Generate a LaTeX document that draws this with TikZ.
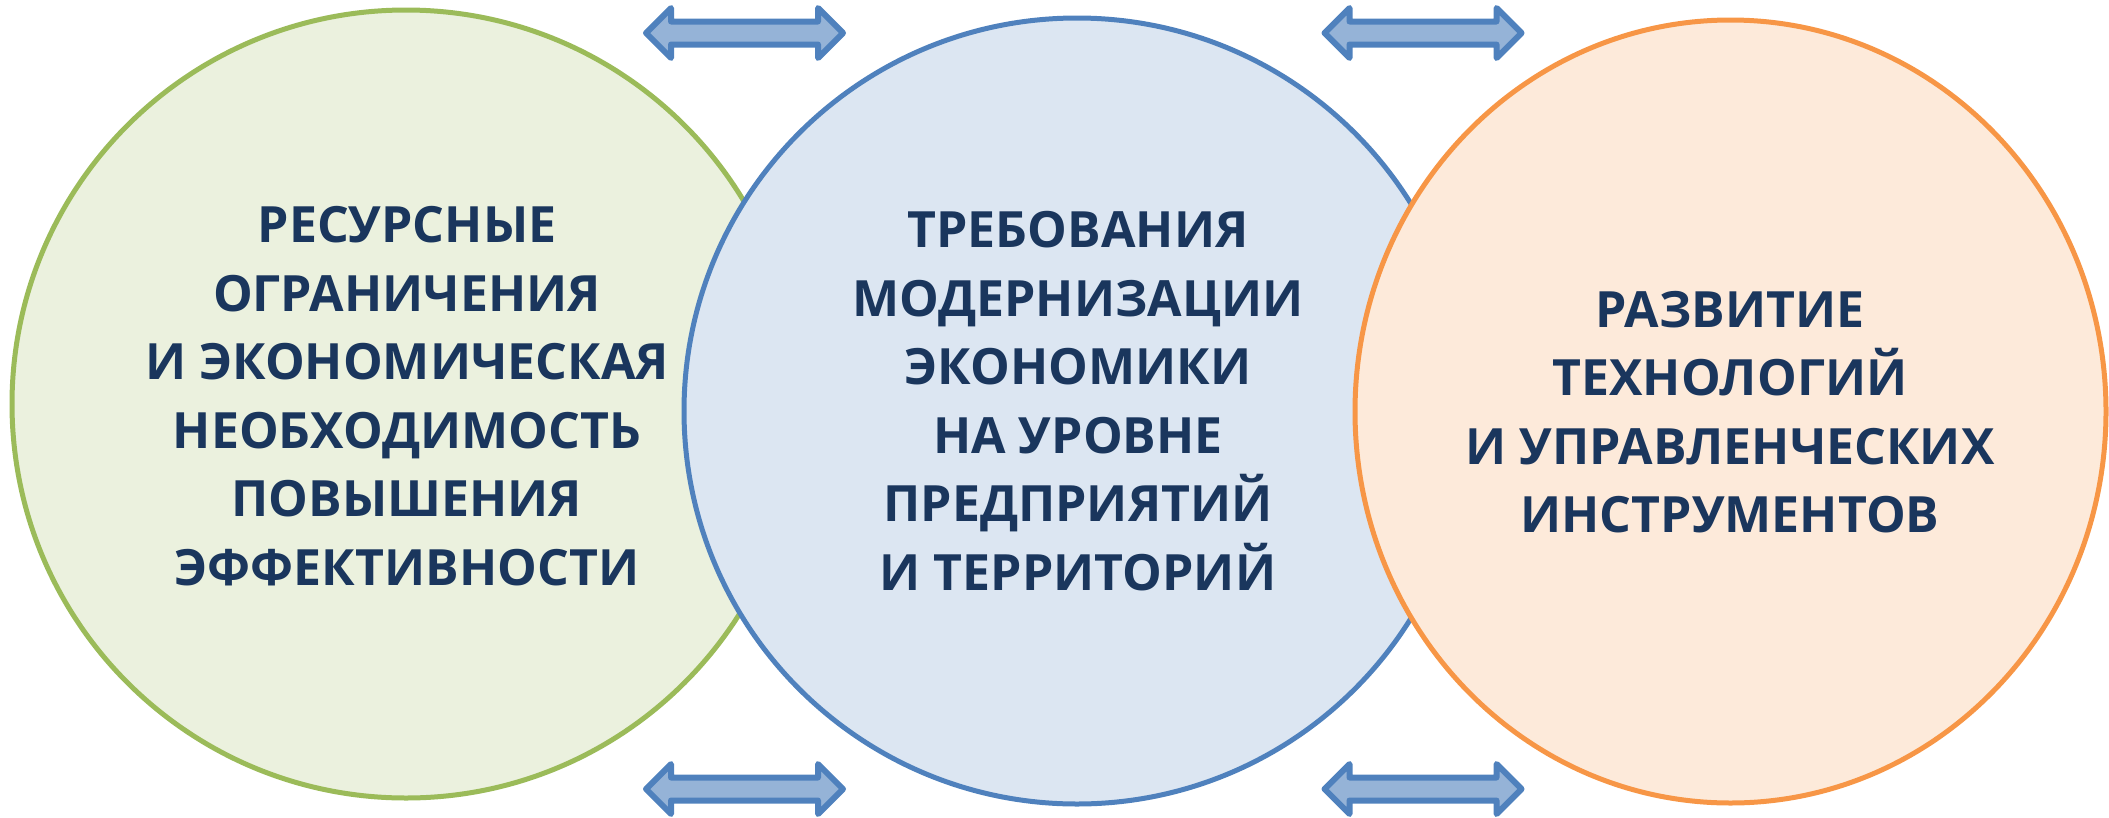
\documentclass[tikz,border=0pt]{standalone}
\usepackage{fontspec}
\setmainfont{Open Sans}
\usetikzlibrary{shapes.geometric}
\definecolor{greenfill}{RGB}{235,241,222}
\definecolor{greenline}{RGB}{155,187,89}
\definecolor{bluefill}{RGB}{220,230,242}
\definecolor{blueline}{RGB}{79,129,189}
\definecolor{orangefill}{RGB}{253,234,218}
\definecolor{orangeline}{RGB}{247,150,70}
\definecolor{arrowfill}{RGB}{149,179,215}
\definecolor{textnavy}{RGB}{26,54,93}
\tikzset{
  bubble/.style={circle, line width=5pt, minimum size=788pt, inner sep=0pt},
  bubbletext/.style={align=center, inner sep=0pt, text=textnavy,
    font=\bfseries\fontsize{50}{68.5}\selectfont},
  dblarrow/.pic={
    \draw[line width=6pt, line join=round, draw=blueline, fill=arrowfill]
      (-98.5,0) -- (-73.5,-25) -- (-73.5,-11.5) -- (73.5,-11.5) -- (73.5,-25)
      -- (98.5,0) -- (73.5,25) -- (73.5,11.5) -- (-73.5,11.5) -- (-73.5,25) -- cycle;
  }
}
\begin{document}
\begin{tikzpicture}[x=1pt,y=-1pt]
\useasboundingbox (0,0) rectangle (2109,817);
\node[bubble, draw=greenline, fill=greenfill] (c1) at (406,404) {};
\node[bubble, draw=blueline, fill=bluefill, minimum size=786pt] (c2) at (1077,411) {};
\node[ellipse, line width=5pt, inner sep=0pt, minimum width=751pt, minimum height=783pt,
      draw=orangeline, fill=orangefill] (c3) at (1730.5,411.5) {};
\node[bubbletext] (t1) at (407,396) {РЕСУРСНЫЕ\\ОГРАНИЧЕНИЯ\\И ЭКОНОМИЧЕСКАЯ\\НЕОБХОДИМОСТЬ\\ПОВЫШЕНИЯ\\ЭФФЕКТИВНОСТИ};
\node[bubbletext] (t2) at (1078,401) {ТРЕБОВАНИЯ\\МОДЕРНИЗАЦИИ\\ЭКОНОМИКИ\\НА УРОВНЕ\\ПРЕДПРИЯТИЙ\\И ТЕРРИТОРИЙ};
\node[bubbletext] (t3) at (1730,412) {РАЗВИТИЕ\\ТЕХНОЛОГИЙ\\И УПРАВЛЕНЧЕСКИХ\\ИНСТРУМЕНТОВ};
\pic at (744.5,33) {dblarrow};
\pic at (1423,33) {dblarrow};
\pic at (744.5,789) {dblarrow};
\pic at (1423,789) {dblarrow};
\end{tikzpicture}
\end{document}
